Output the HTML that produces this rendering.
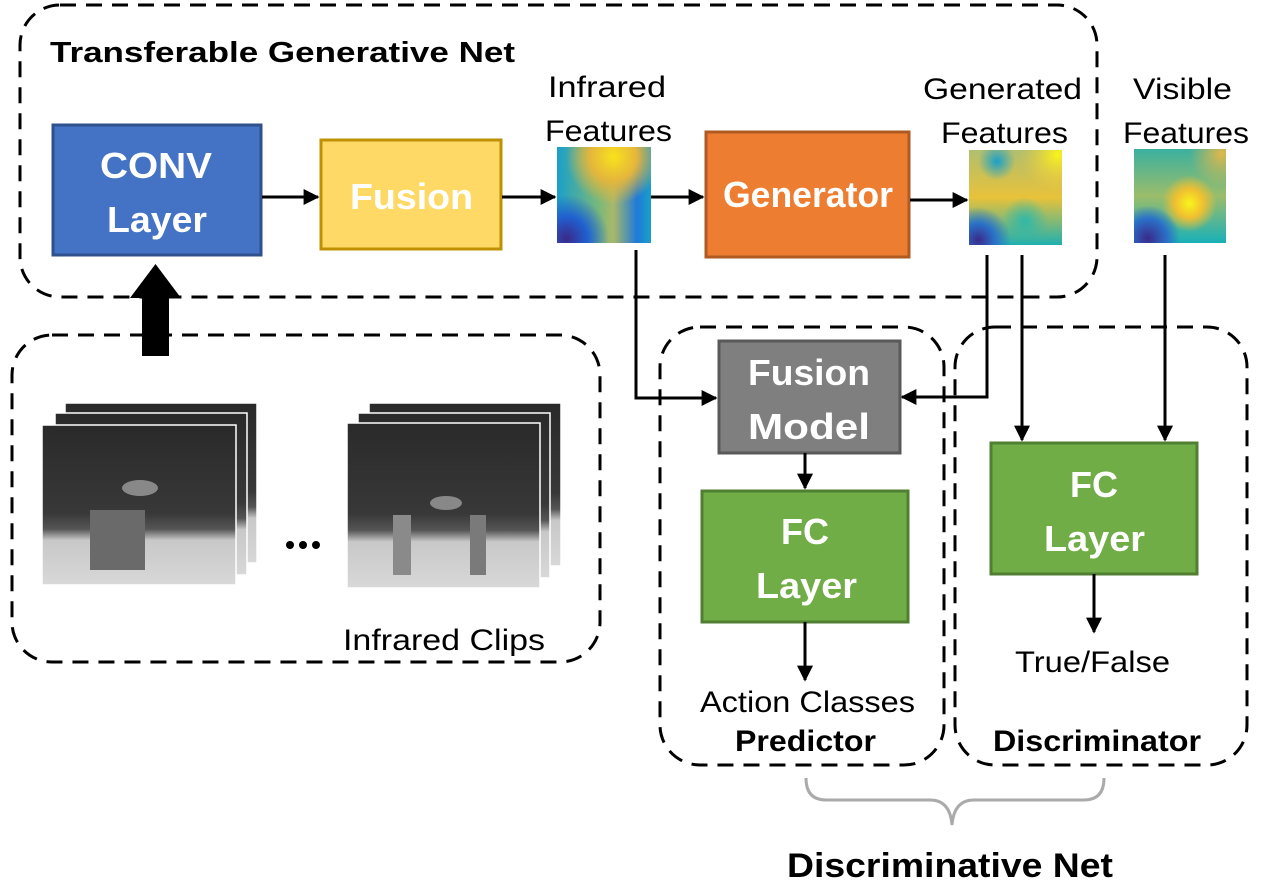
<!DOCTYPE html>
<html><head><meta charset="utf-8"><style>
html,body{margin:0;padding:0;background:#fff;}
svg{display:block;font-family:"Liberation Sans",sans-serif;}
</style></head><body>
<svg width="1261" height="888" viewBox="0 0 1261 888" xmlns="http://www.w3.org/2000/svg">
<defs>
<marker id="a2" viewBox="0 0 10 10" markerWidth="16" markerHeight="16" refX="9" refY="5" orient="auto" markerUnits="userSpaceOnUse"><path d="M0,0 L10,5 L0,10 z" fill="#000"/></marker>
<radialGradient id="h1a" cx="0.6" cy="0.1" r="0.5"><stop offset="0" stop-color="#f9e21c"/><stop offset="0.5" stop-color="#e4b63c"/><stop offset="1" stop-color="#e4b63c" stop-opacity="0"/></radialGradient>
<linearGradient id="h1b" x1="0" y1="0" x2="1" y2="0"><stop offset="0" stop-color="#1aa0c8"/><stop offset="0.45" stop-color="#7bb87a"/><stop offset="0.6" stop-color="#a9b86a"/><stop offset="0.85" stop-color="#1e7ad8"/><stop offset="1" stop-color="#1aa0c8"/></linearGradient>
<radialGradient id="h1c" cx="0.1" cy="0.95" r="0.45"><stop offset="0" stop-color="#3a2a8a"/><stop offset="0.5" stop-color="#2060d0"/><stop offset="1" stop-color="#2060d0" stop-opacity="0"/></radialGradient>
<linearGradient id="h2b" x1="0" y1="0" x2="0" y2="1"><stop offset="0" stop-color="#b0bf70"/><stop offset="0.5" stop-color="#e8c23a"/><stop offset="1" stop-color="#20b0b0"/></linearGradient>
<radialGradient id="h2a" cx="0.95" cy="0.05" r="0.4"><stop offset="0" stop-color="#f9f41c"/><stop offset="1" stop-color="#f9c83a" stop-opacity="0"/></radialGradient>
<radialGradient id="h2c" cx="0.3" cy="0.12" r="0.2"><stop offset="0" stop-color="#1aa0c8"/><stop offset="1" stop-color="#1aa0c8" stop-opacity="0"/></radialGradient>
<radialGradient id="h2d" cx="0.1" cy="0.95" r="0.35"><stop offset="0" stop-color="#3a2a8a"/><stop offset="0.5" stop-color="#2a70c8"/><stop offset="1" stop-color="#2a70c8" stop-opacity="0"/></radialGradient>
<radialGradient id="h2e" cx="0.6" cy="0.75" r="0.25"><stop offset="0" stop-color="#30b8a8"/><stop offset="1" stop-color="#30b8a8" stop-opacity="0"/></radialGradient>
<linearGradient id="h3b" x1="0" y1="0" x2="0" y2="1"><stop offset="0" stop-color="#3ab0a0"/><stop offset="0.5" stop-color="#9bbd6a"/><stop offset="1" stop-color="#18b0b8"/></linearGradient>
<radialGradient id="h3a" cx="0.6" cy="0.58" r="0.3"><stop offset="0" stop-color="#f9f41c"/><stop offset="0.5" stop-color="#f0c030"/><stop offset="1" stop-color="#f0c030" stop-opacity="0"/></radialGradient>
<radialGradient id="h3c" cx="0.15" cy="0.95" r="0.35"><stop offset="0" stop-color="#3a2a8a"/><stop offset="0.6" stop-color="#2a70c8"/><stop offset="1" stop-color="#2a70c8" stop-opacity="0"/></radialGradient>
<radialGradient id="h3d" cx="0.95" cy="0.05" r="0.35"><stop offset="0" stop-color="#e0b84a"/><stop offset="1" stop-color="#e0b84a" stop-opacity="0"/></radialGradient>
<linearGradient id="ph" x1="0" y1="0" x2="0" y2="1"><stop offset="0" stop-color="#2a2a2a"/><stop offset="0.55" stop-color="#383838"/><stop offset="0.65" stop-color="#555"/><stop offset="0.72" stop-color="#c8c8c8"/><stop offset="1" stop-color="#d8d8d8"/></linearGradient>
</defs>

<g fill="none" stroke="#000" stroke-width="3" stroke-dasharray="16,10">
<rect x="20" y="5" width="1077" height="292" rx="40"/>
<rect x="12" y="335" width="588" height="327" rx="40"/>
<rect x="660" y="327" width="284" height="438" rx="40"/>
<rect x="955" y="327" width="292" height="438" rx="40"/>
</g>

<text x="50" y="62" font-size="29" font-weight="bold" textLength="465" lengthAdjust="spacingAndGlyphs">Transferable Generative Net</text>

<rect x="53" y="125" width="208" height="130" fill="#4472C4" stroke="#2F528F" stroke-width="3"/>
<text x="100" y="178" font-size="36" font-weight="bold" fill="#fff" textLength="112" lengthAdjust="spacingAndGlyphs">CONV</text>
<text x="107" y="232" font-size="36" font-weight="bold" fill="#fff" textLength="100" lengthAdjust="spacingAndGlyphs">Layer</text>

<rect x="321" y="140" width="180" height="109" fill="#FFD966" stroke="#BF9000" stroke-width="3"/>
<text x="350" y="209" font-size="36" font-weight="bold" fill="#fff" textLength="123" lengthAdjust="spacingAndGlyphs">Fusion</text>

<rect x="706" y="132" width="203" height="125" fill="#ED7D31" stroke="#AE5A21" stroke-width="3"/>
<text x="723" y="207" font-size="36" font-weight="bold" fill="#fff" textLength="170" lengthAdjust="spacingAndGlyphs">Generator</text>

<rect x="719" y="341" width="181" height="112" fill="#7F7F7F" stroke="#595959" stroke-width="3"/>
<text x="748" y="385" font-size="36" font-weight="bold" fill="#fff" textLength="122" lengthAdjust="spacingAndGlyphs">Fusion</text>
<text x="748" y="439" font-size="36" font-weight="bold" fill="#fff" textLength="122" lengthAdjust="spacingAndGlyphs">Model</text>

<rect x="702" y="491" width="206" height="131" fill="#70AD47" stroke="#507E32" stroke-width="3"/>
<text x="805" y="544" font-size="36" font-weight="bold" fill="#fff" text-anchor="middle">FC</text>
<text x="756" y="598" font-size="36" font-weight="bold" fill="#fff" textLength="101" lengthAdjust="spacingAndGlyphs">Layer</text>

<rect x="991" y="443" width="206" height="131" fill="#70AD47" stroke="#507E32" stroke-width="3"/>
<text x="1094" y="497" font-size="36" font-weight="bold" fill="#fff" text-anchor="middle">FC</text>
<text x="1044" y="551" font-size="36" font-weight="bold" fill="#fff" textLength="101" lengthAdjust="spacingAndGlyphs">Layer</text>

<g>
<rect x="557" y="147" width="94" height="96" fill="url(#h1b)"/>
<rect x="557" y="147" width="94" height="96" fill="url(#h1a)"/>
<rect x="557" y="147" width="94" height="96" fill="url(#h1c)"/>
</g>
<g>
<rect x="969" y="150" width="93" height="95" fill="url(#h2b)"/>
<rect x="969" y="150" width="93" height="95" fill="url(#h2a)"/>
<rect x="969" y="150" width="93" height="95" fill="url(#h2c)"/>
<rect x="969" y="150" width="93" height="95" fill="url(#h2e)"/>
<rect x="969" y="150" width="93" height="95" fill="url(#h2d)"/>
</g>
<g>
<rect x="1134" y="149" width="92" height="94" fill="url(#h3b)"/>
<rect x="1134" y="149" width="92" height="94" fill="url(#h3d)"/>
<rect x="1134" y="149" width="92" height="94" fill="url(#h3a)"/>
<rect x="1134" y="149" width="92" height="94" fill="url(#h3c)"/>
</g>

<g font-size="30" lengthAdjust="spacingAndGlyphs">
<text x="548" y="97" textLength="118" lengthAdjust="spacingAndGlyphs">Infrared</text>
<text x="545" y="141" textLength="127" lengthAdjust="spacingAndGlyphs">Features</text>
<text x="923" y="99" textLength="159" lengthAdjust="spacingAndGlyphs">Generated</text>
<text x="941" y="143" textLength="127" lengthAdjust="spacingAndGlyphs">Features</text>
<text x="1133" y="99" textLength="99" lengthAdjust="spacingAndGlyphs">Visible</text>
<text x="1123" y="143" textLength="126" lengthAdjust="spacingAndGlyphs">Features</text>
<text x="343" y="650" textLength="202" lengthAdjust="spacingAndGlyphs">Infrared Clips</text>
<text x="700" y="712" textLength="215" lengthAdjust="spacingAndGlyphs">Action Classes</text>
<text x="1015" y="672" textLength="155" lengthAdjust="spacingAndGlyphs">True/False</text>
</g>
<g font-size="30" font-weight="bold">
<text x="735" y="751" textLength="141" lengthAdjust="spacingAndGlyphs">Predictor</text>
<text x="993" y="751" textLength="208" lengthAdjust="spacingAndGlyphs">Discriminator</text>
<text x="787" y="877" font-size="34" textLength="326" lengthAdjust="spacingAndGlyphs">Discriminative Net</text>
</g>

<g stroke="#000" stroke-width="3" fill="none" marker-end="url(#a2)">
<line x1="262" y1="197" x2="318" y2="197"/>
<line x1="502" y1="197" x2="555" y2="197"/>
<line x1="651" y1="197" x2="703" y2="197"/>
<line x1="910" y1="200" x2="967" y2="200"/>
<polyline points="636,250 636,398 716,398"/>
<polyline points="987,255 987,397 902,397"/>
<line x1="1022" y1="255" x2="1022" y2="440"/>
<line x1="1165" y1="255" x2="1165" y2="440"/>
<line x1="805" y1="453" x2="805" y2="488"/>
<line x1="805" y1="622" x2="805" y2="680"/>
<line x1="1094" y1="574" x2="1094" y2="632"/>
</g>
<rect x="142" y="296" width="27" height="60" fill="#000"/>
<polygon points="130,298 181,298 155.5,264" fill="#000"/>

<g stroke="#fff" stroke-width="1.5">
<rect x="65" y="403" width="192" height="160" fill="url(#ph)"/>
<rect x="55" y="413" width="192" height="162" fill="url(#ph)"/>
<rect x="42" y="425" width="194" height="160" fill="url(#ph)"/>
<rect x="369" y="403" width="192" height="163" fill="url(#ph)"/>
<rect x="358" y="413" width="192" height="165" fill="url(#ph)"/>
<rect x="347" y="423" width="193" height="165" fill="url(#ph)"/>
</g>
<g fill="#888">
<ellipse cx="140" cy="488" rx="18" ry="8"/>
<rect x="90" y="510" width="55" height="60" fill="#6a6a6a"/>
<ellipse cx="446" cy="503" rx="16" ry="7"/>
<rect x="393" y="515" width="18" height="60" fill="#8a8a8a"/>
<rect x="470" y="515" width="16" height="60" fill="#7a7a7a"/>
</g>
<g fill="#000">
<circle cx="290" cy="545" r="4"/><circle cx="303" cy="545" r="4"/><circle cx="316" cy="545" r="4"/>
</g>

<path d="M806,778 Q806,800 826,800 L930,800 Q950,800 952,825 Q954,800 974,800 L1084,800 Q1104,800 1104,778" fill="none" stroke="#aaa" stroke-width="3"/>
</svg>
</body></html>
